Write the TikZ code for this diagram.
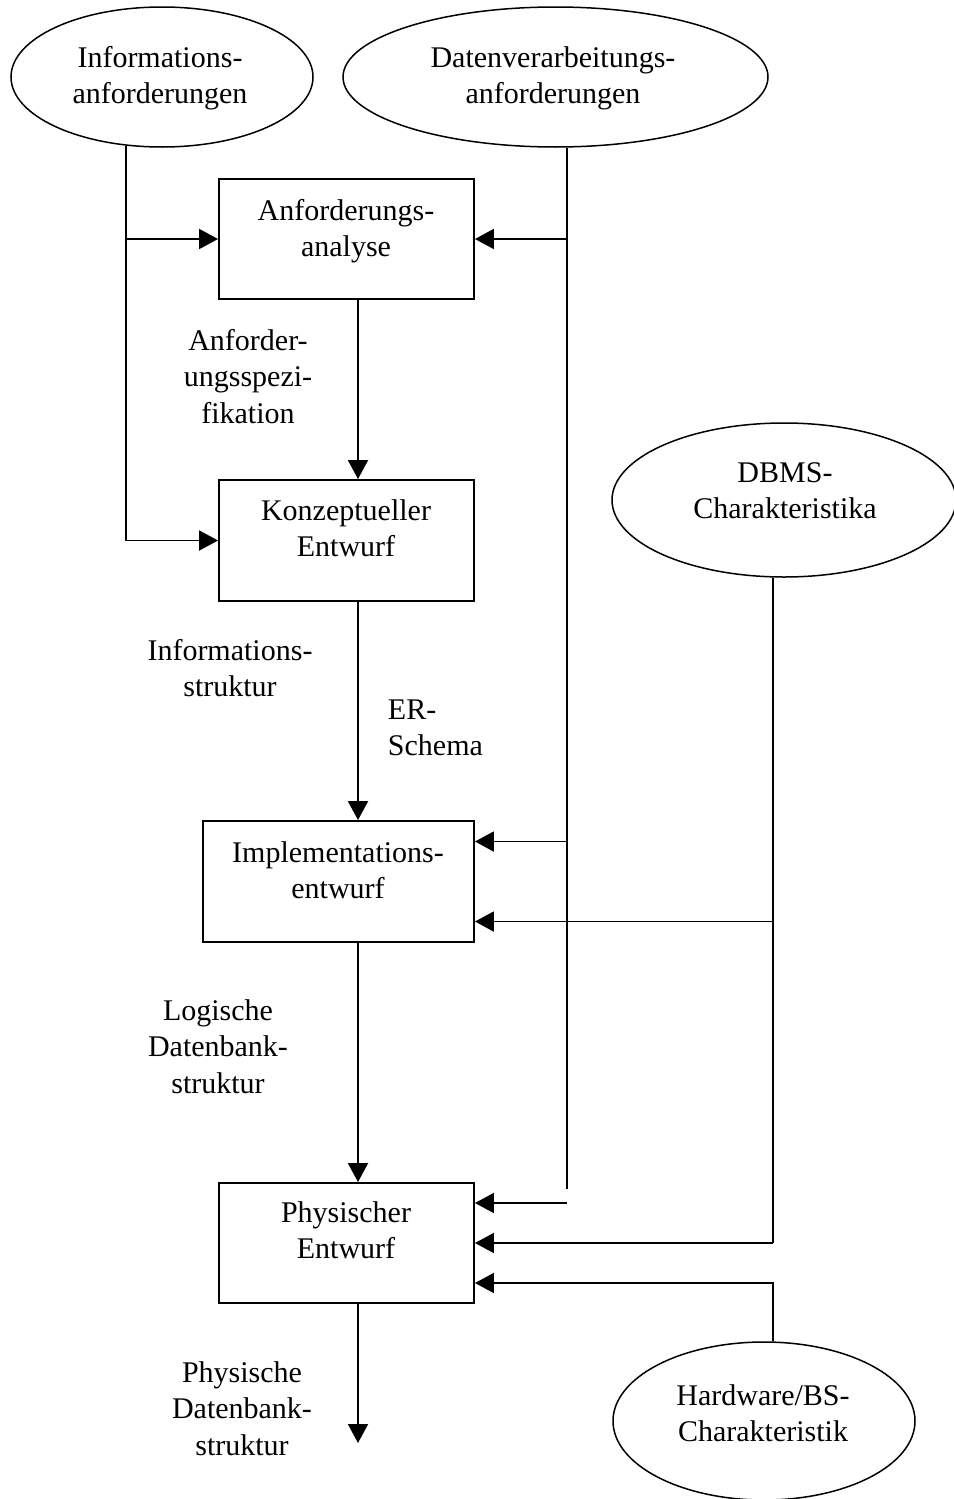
\documentclass[tikz,border=0pt]{standalone}
\usepackage{fontspec}
\setmainfont{Liberation Serif}
\usetikzlibrary{shapes.geometric,arrows.meta,calc}
\newcommand{\clines}[1]{\begin{tabular}[t]{@{}c@{}}#1\end{tabular}}
\newcommand{\llines}[1]{\begin{tabular}[t]{@{}l@{}}#1\end{tabular}}
\begin{document}
\begin{tikzpicture}[x=1pt,y=-1pt,
  line width=1.9pt,
  txt/.style={anchor=base,inner sep=0pt,font=\fontsize{30}{36.5}\selectfont},
  stage/.style={draw,rectangle,inner sep=0pt},
  source/.style={draw,ellipse,inner sep=0pt,line width=1.5pt},
  arr/.style={-{Triangle[length=19pt,width=20pt]}}]
\useasboundingbox (0,0) rectangle (953,1499);

% spine coordinates of the vertical connectors
\coordinate (lx) at (126,0);
\coordinate (sx) at (358,0);
\coordinate (mx) at (567,0);
\coordinate (rx) at (773,0);

% input ellipses
\node[source,minimum width=302pt,minimum height=140pt] (info) at (162,77) {};
\node[source,minimum width=425pt,minimum height=140pt] (dv) at (555.5,77) {};
\node[source,minimum width=344pt,minimum height=154pt] (dbms) at (784,500) {};
\node[source,minimum width=302pt,minimum height=158pt] (hw) at (764,1421) {};

\node[txt] at (160,67) {\clines{Informations-\\anforderungen}};
\node[txt] at (553,67) {\clines{Datenverarbeitungs-\\anforderungen}};
\node[txt] at (785,482) {\clines{DBMS-\\Charakteristika}};
\node[txt] at (763,1405) {\clines{Hardware/BS-\\Charakteristik}};

% design stages
\node[stage,minimum width=255pt,minimum height=120pt] (ana) at (346.5,239) {};
\node[stage,minimum width=255pt,minimum height=121pt] (konz) at (346.5,540.5) {};
\node[stage,minimum width=271pt,minimum height=121pt] (impl) at (338.5,881.5) {};
\node[stage,minimum width=255pt,minimum height=120pt] (phys) at (346.5,1243) {};

\node[txt] at (346,220) {\clines{Anforderungs-\\analyse}};
\node[txt] at (346,520) {\clines{Konzeptueller\\Entwurf}};
\node[txt] at (338,862) {\clines{Implementations-\\entwurf}};
\node[txt] at (346,1222) {\clines{Physischer\\Entwurf}};

% intermediate results
\node[txt] at (248,350) {\clines{Anforder-\\ungsspezi-\\fikation}};
\node[txt] at (230,660) {\clines{Informations-\\struktur}};
\node[txt,anchor=base west] at (387,719) {\llines{ER-\\Schema}};
\node[txt] at (218,1020) {\clines{Logische\\Datenbank-\\struktur}};
\node[txt] at (242,1382) {\clines{Physische\\Datenbank-\\struktur}};
\coordinate (out) at (358,1443);

% main flow
\draw[arr] (ana.south -| sx) -- (konz.north -| sx);
\draw[arr] (konz.south -| sx) -- (impl.north -| sx);
\draw[arr] (impl.south -| sx) -- (phys.north -| sx);
\draw[arr] (phys.south -| sx) -- (out);

% information requirements
\draw ($(info.south -| lx)+(0,-2)$) -- ($(lx |- konz.west)$);
\draw[arr] (lx |- ana.west) -- (ana.west);
\draw[arr] (lx |- konz.west) -- (konz.west);

% data processing requirements
\draw (dv.south -| mx) -- ($(mx |- phys.north)+(0,7)$);
\draw[arr] (mx |- ana.east) -- (ana.east);
\draw[arr] ($(mx |- impl.east)+(0,-40)$) -- ($(impl.east)+(0,-40)$);
\draw[arr] ($(mx |- phys.east)+(0,-40)$) -- ($(phys.east)+(0,-40)$);

% DBMS characteristics
\draw (dbms.south -| rx) -- (rx |- phys.east);
\draw[arr] ($(rx |- impl.east)+(0,40)$) -- ($(impl.east)+(0,40)$);
\draw[arr] (rx |- phys.east) -- (phys.east);

% hardware / operating system characteristics
\draw[arr] (hw.north -| rx) -- ($(rx |- phys.east)+(0,40)$) -- ($(phys.east)+(0,40)$);
\end{tikzpicture}
\end{document}
